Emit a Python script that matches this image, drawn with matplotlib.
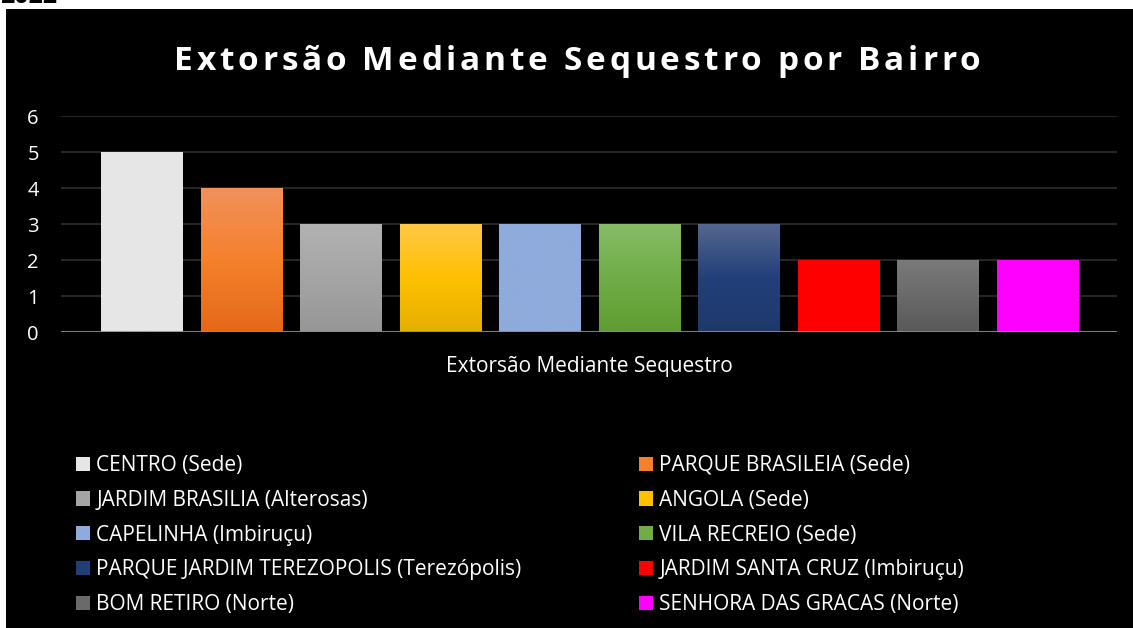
import numpy as np
import matplotlib
matplotlib.use('Agg')
import matplotlib.pyplot as plt
from matplotlib.patches import Rectangle, Patch
from matplotlib.colors import LinearSegmentedColormap

plt.rcParams['font.family'] = ['Open Sans', 'DejaVu Sans']

bairros = [
    'CENTRO (Sede)',
    'PARQUE BRASILEIA (Sede)',
    'JARDIM BRASILIA (Alterosas)',
    'ANGOLA (Sede)',
    'CAPELINHA (Imbiruçu)',
    'VILA RECREIO (Sede)',
    'PARQUE JARDIM TEREZOPOLIS (Terezópolis)',
    'JARDIM SANTA CRUZ (Imbiruçu)',
    'BOM RETIRO (Norte)',
    'SENHORA DAS GRACAS (Norte)',
]
casos = [5, 4, 3, 3, 3, 3, 3, 2, 2, 2]
categoria = 'Extorsão Mediante Sequestro'
titulo = 'Extorsão Mediante Sequestro por Bairro'
ano = '2022'

# gradient stops for each bar: top, middle, bottom
cores = [
    ('#E6E6E6', '#E6E6E6', '#E6E6E6'),
    ('#F0915C', '#F5812C', '#E3691A'),
    ('#B2B2B2', '#A5A5A5', '#969696'),
    ('#FFC846', '#FFC000', '#E4B000'),
    ('#8FAADC', '#8FAADC', '#8FAADC'),
    ('#86BC68', '#70AD47', '#5E9D32'),
    ('#54668F', '#233F7A', '#1D396B'),
    ('#FF0000', '#FF0000', '#FF0000'),
    ('#7A7A7A', '#6A6A6A', '#595959'),
    ('#FF00FF', '#FF00FF', '#FF00FF'),
]

W, H = 1133, 628
fig = plt.figure(figsize=(W / 100, H / 100), dpi=100)
fig.patch.set_facecolor('white')
fig.patches.append(Rectangle((6 / W, 0), 1, 619 / H, transform=fig.transFigure,
                             facecolor='black', edgecolor='none', zorder=-5))
fig.text(0.0, 1 - 3 / H, ano, fontsize=18, fontweight='bold', color='black',
         va='baseline', ha='left')

ax = fig.add_axes([61 / W, 296 / H, 1056 / W, 216 / H])
ax.patch.set_alpha(0)

x = np.arange(len(casos))
barras = ax.bar(x, casos, width=0.815, color=[c[1] for c in cores], zorder=2)

# vertical gradient fill clipped to each bar
grad = np.linspace(0, 1, 256).reshape(-1, 1)
for b, c in zip(barras, cores):
    cmap = LinearSegmentedColormap.from_list('g', [c[2], c[1], c[0]])
    x0 = b.get_x()
    im = ax.imshow(grad, cmap=cmap, origin='lower', aspect='auto',
                   extent=[x0, x0 + b.get_width(), 0, b.get_height()], zorder=2.5)
    im.set_clip_path(b)

ax.set_xlim(-0.81, 9.80)
ax.set_ylim(0, 6)
ax.set_yticks(range(0, 7))
ax.yaxis.grid(True, color='#262626', linewidth=1.5, zorder=1)
ax.set_axisbelow(True)
ax.axhline(0, color='#8C8C8C', linewidth=2.2, alpha=0.85, zorder=3)
for s in ax.spines.values():
    s.set_visible(False)
ax.tick_params(axis='y', length=0, pad=16, labelsize=14.5, labelcolor='white')
ax.set_xticks([4.5])
ax.set_xticklabels([categoria])
ax.tick_params(axis='x', length=0, pad=17, labelsize=15, labelcolor='white')

# title with wide letter spacing, placed glyph by glyph
r = fig.canvas.get_renderer()
tam_titulo = 24

def larg(s):
    if not s.strip():
        return 0.0
    t = fig.text(0, 0, s, fontsize=tam_titulo, fontweight='bold')
    w = t.get_window_extent(renderer=r).width
    t.remove()
    return w

x_ini, x_fim, base = 174, 980, 70
espaco = (x_fim - x_ini - larg(titulo)) / (len(titulo) - 1)
for i, ch in enumerate(titulo):
    if ch == ' ':
        continue
    xp = x_ini + larg(titulo[:i + 1]) - larg(ch) + i * espaco
    fig.text(xp / W, 1 - base / H, ch, fontsize=tam_titulo, fontweight='bold',
             color='white', ha='left', va='baseline')

alcas = [Patch(facecolor=c[1], edgecolor='none') for c in cores]
for col, x_leg in ((0, 76 / W), (1, 639 / W)):
    idx = list(range(col, len(bairros), 2))
    fig.legend([alcas[i] for i in idx], [bairros[i] for i in idx],
               loc='upper left', bbox_to_anchor=(x_leg, 1 - 455 / H),
               frameon=False, fontsize=15, labelcolor='white',
               handlelength=0.68, handleheight=0.68, handletextpad=0.3,
               labelspacing=0.66, borderaxespad=0, borderpad=0)

fig.savefig('out.png', dpi=100, facecolor=fig.get_facecolor())
